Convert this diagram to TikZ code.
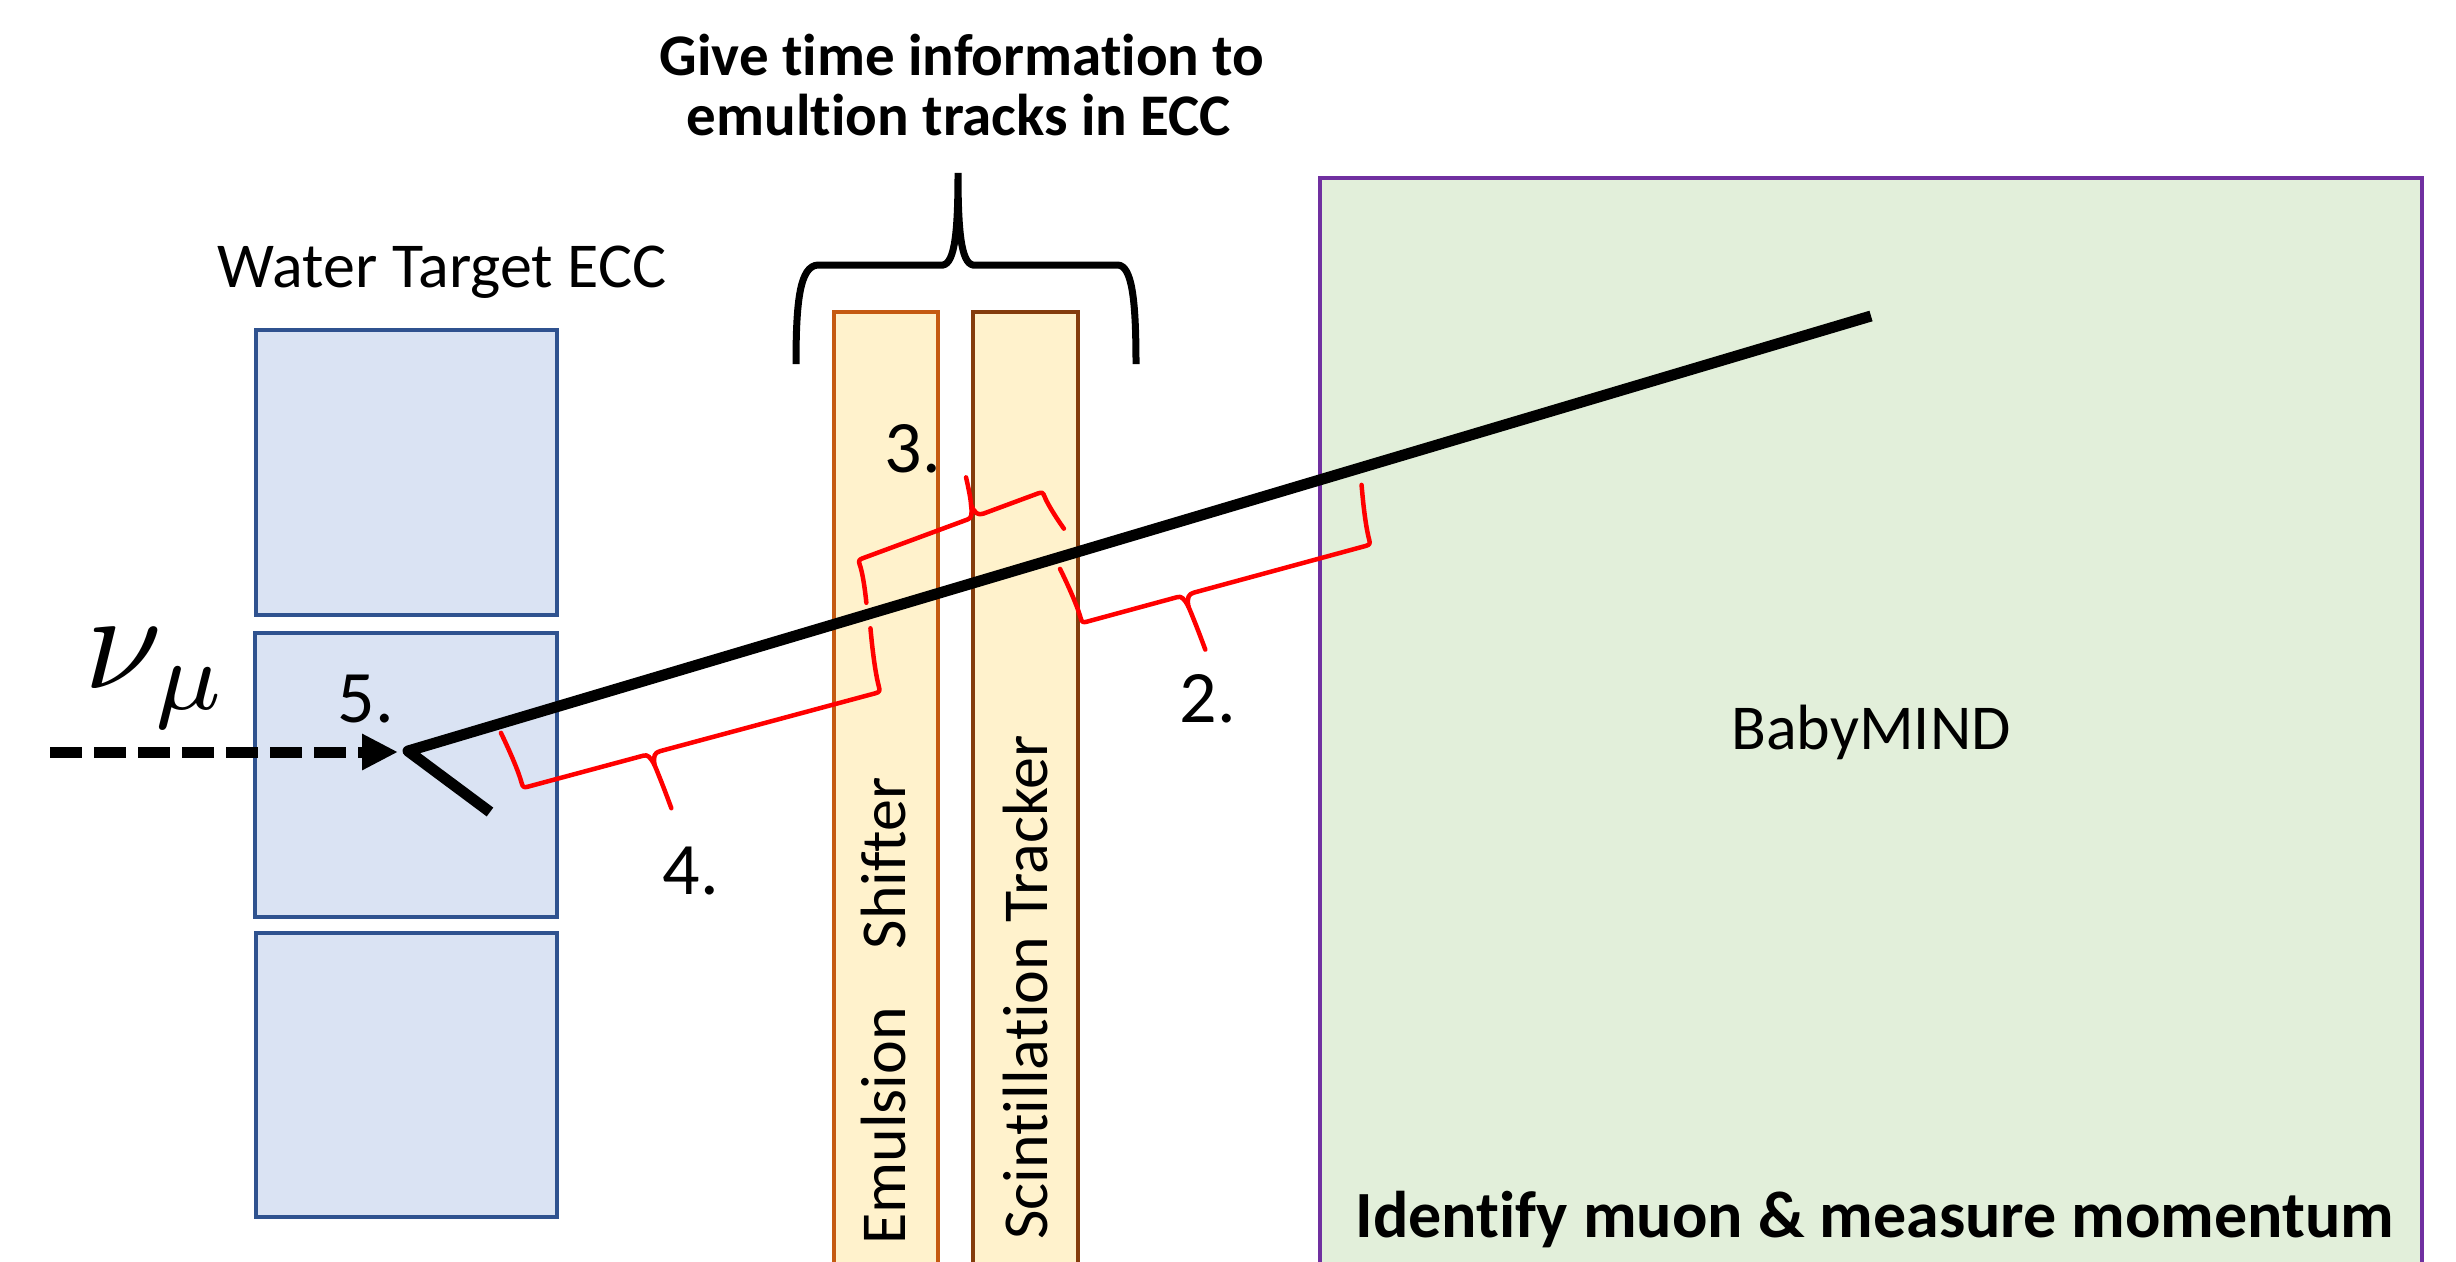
\documentclass[tikz,border=0pt]{standalone}
\usepackage{graphicx}
\usepackage{fontspec}
\setmainfont{Carlito}[Ligatures={NoCommon}]
\usetikzlibrary{arrows.meta}
\definecolor{eccfill}{HTML}{DAE3F3}
\definecolor{eccline}{HTML}{2F528F}
\definecolor{emfill}{HTML}{FFF2CC}
\definecolor{emline}{HTML}{C55A11}
\definecolor{trline}{HTML}{843C0C}
\definecolor{bmfill}{HTML}{E2EFDA}
\definecolor{bmline}{HTML}{7030A0}
% #1 x, #2 y (spine corner), #3 angle, #4 length, #5 tip pos, #6 tip depth, #7 left arm, #8 right arm, #9 flip
\newcommand\redbrace[9]{%
 \begin{scope}[shift={(#1,#2)}, rotate=#3, yscale=#9]
  \draw[redline] (-7,-#7) .. controls (-2,{-0.55*#7}) and (0,{-0.25*#7}) .. (0,-5)
     .. controls (0,-1) and (1,0) .. (5,0) -- ({#5-5},0)
     .. controls ({#5-1},0) and ({#5+1},3) .. ({#5+3},12)
     .. controls ({#5+5},{0.45*#6}) and ({#5+7},{0.8*#6}) .. ({#5+8},#6);
  \draw[redline] ({#4+7},-#8) .. controls ({#4+2},{-0.55*#8}) and (#4,{-0.25*#8}) .. (#4,-5)
     .. controls (#4,-1) and ({#4-1},0) .. ({#4-5},0) -- ({#5+12},0)
     .. controls ({#5+6},0) and ({#5+4},3) .. ({#5+3},12);
 \end{scope}}
\begin{document}
\begin{tikzpicture}[x=1pt,y=-1pt,
  lbl/.style={inner sep=0pt, font=\fontsize{64}{70}\selectfont},
  num/.style={inner sep=0pt, font=\fontsize{74}{80}\selectfont},
  boldlbl/.style={inner sep=0pt, font=\bfseries\fontsize{59}{60}\selectfont},
  eccbox/.style={fill=eccfill, draw=eccline, line width=4pt},
  embox/.style={fill=emfill, draw=emline, line width=4pt},
  trbox/.style={fill=emfill, draw=trline, line width=4pt},
  bmbox/.style={fill=bmfill, draw=bmline, line width=4pt},
  redline/.style={draw=red, line width=4.5pt, line join=round, line cap=round},
  track/.style={draw=black, line width=11pt, line join=round},
  bracket/.style={draw=black, line width=7pt, line cap=butt},
  nuarrow/.style={draw=black, line width=11pt, dash pattern=on 32pt off 12pt,
     -{Triangle[length=36pt,width=34pt]}}
]
\fill[white] (0,0) rectangle (2456,1261);
\useasboundingbox (0,0) rectangle (2456,1261);
\clip (0,0) rectangle (2456,1261);

% detector boxes
\draw[eccbox] (256,330) rectangle (557,615);
\draw[eccbox] (255,633) rectangle (557,917);
\draw[eccbox] (256,933) rectangle (557,1217);
\draw[embox] (834,312) rectangle (938,1300);
\draw[trbox] (973,312) rectangle (1078,1300);
\draw[bmbox] (1320,178) rectangle (2422,1300);

% labels
\node[lbl, anchor=base] (ecc) at (442,287) {Water Target ECC};
\node[lbl, anchor=base] (bm) at (1871,749) {BabyMIND};
\node[lbl, rotate=90, anchor=base west] (em) at (905,1245) {Emulsion\hspace{58pt}Shifter};
\node[lbl, rotate=90, anchor=base west] (st) at (1047,1240) {Scintillation Tracker};
\node[boldlbl, anchor=base] (t1) at (962,75) {Give time information to};
\node[boldlbl, anchor=base] (t2) at (959,135) {emultion tracks in ECC};
\node[inner sep=0pt, anchor=base, font=\bfseries\fontsize{66}{70}\selectfont] (idm) at (1875,1237) {Identify muon \& measure momentum};

% neutrino
\node[inner sep=0pt] (nu) at (157,678) {\scalebox{14}{$\nu_{\mu}$}};
\coordinate (nustart) at (50,752);
\coordinate (nuend) at (398,752);
\draw[nuarrow] (nustart) -- (nuend);

% tracks
\coordinate (vtx) at (408,751);
\coordinate (shortend) at (490,812);
\coordinate (muend) at (1871,316);
\draw[track] (shortend) -- (vtx) -- (muend);

% top black brace
\draw[bracket] (796,364) .. controls (796,300) and (800,266) .. (818,265) -- (943,265)
   .. controls (955,263) and (958,230) .. (958,173)
   .. controls (958,230) and (961,263) .. (973,265) -- (1118,265)
   .. controls (1132,266) and (1136,300) .. (1136,364);

% red braces
\redbrace{523}{788}{15.05}{370}{130}{58}{59}{64}{1}
\redbrace{858}{560}{20.3}{197}{122}{40}{43}{42}{-1}
\redbrace{1082}{623}{15.2}{299}{104}{58}{58}{60}{1}

% numbers
\node[num, anchor=base] (n5) at (366,722) {5.};
\node[num, anchor=base] (n4) at (691,894) {4.};
\node[num, anchor=base] (n3) at (913,472) {3.};
\node[num, anchor=base] (n2) at (1208,722) {2.};
\end{tikzpicture}
\end{document}
